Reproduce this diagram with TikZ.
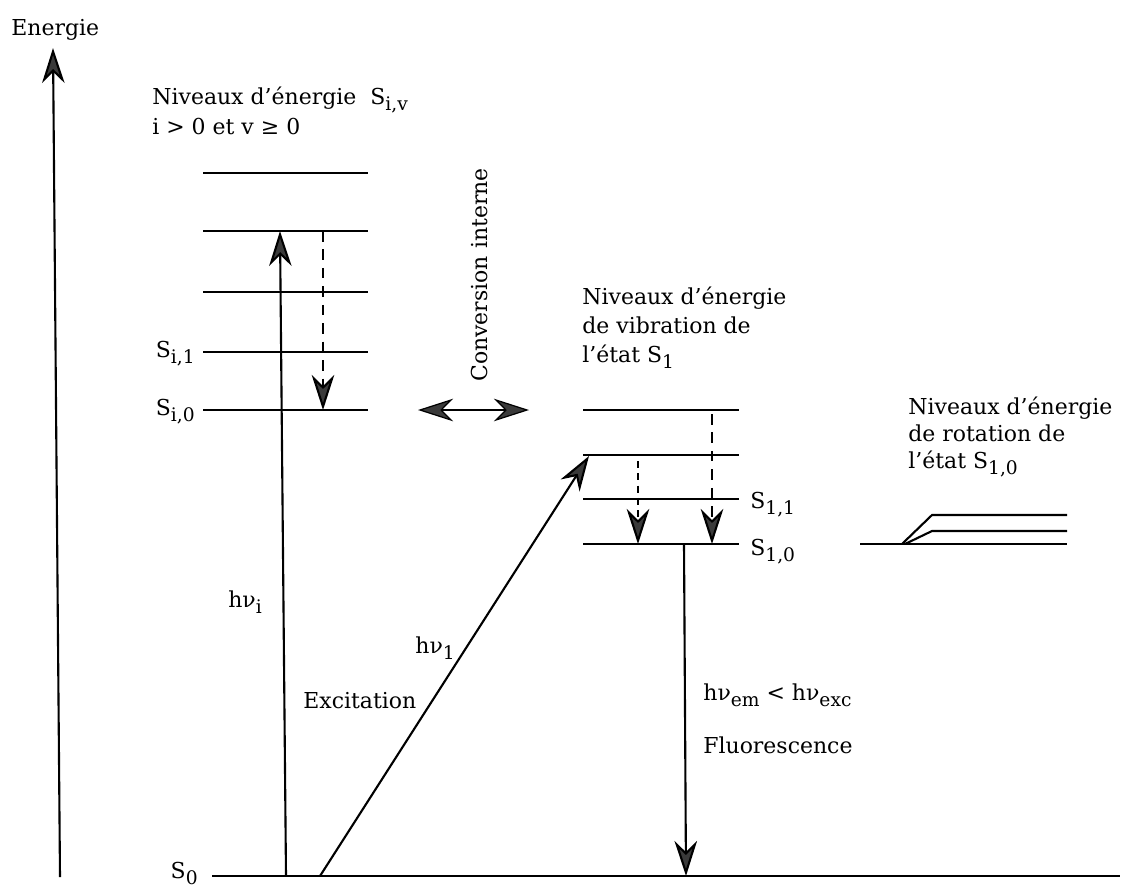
\documentclass[tikz,border=0pt]{standalone}
\usepackage{fontspec}
\setmainfont{DejaVu Serif}
\usetikzlibrary{arrows.meta}
\definecolor{tipgray}{HTML}{3A3A3A}
\newcommand\lo[1]{\raisebox{-0.55ex}{\scalebox{0.85}{#1}}}
\begin{document}
\begin{tikzpicture}[x=0.02cm,y=-0.02cm,
  lvl/.style={line width=1.2pt},
  lbl/.style={font=\fontsize{12.5}{15}\selectfont, inner sep=0pt},
  bigtip/.tip={Stealth[length=0.7cm,width=0.45cm,inset=0.22cm,fill=tipgray]},
  arr/.style={line width=1.2pt,-bigtip},
  darr/.style={line width=1.2pt,-bigtip,dash pattern=on 6pt off 4.5pt},
  sdarr/.style={line width=1.2pt,-bigtip,dash pattern=on 4pt off 3pt},
  biarr/.style={line width=0.7pt,bigtip-bigtip}]
\useasboundingbox (0,0) rectangle (1122,887);

% energy axis
\coordinate (Ebot) at (60,877);
\coordinate (Etop) at (53,48);
\draw[arr] (Ebot) -- (Etop);
\node[lbl,anchor=base west] (energie) at (11,35) {Energie};

% title S_i,v
\node[lbl,anchor=base west] (t1) at (152,104) {Niveaux d'énergie\ \ S\lo{i,v}};
\node[lbl,anchor=base west] (t2) at (152,134) {i > 0 et v ≥ 0};

% left levels
\foreach \n/\y in {a/173,b/231,c/292,d/352,e/410}{
  \coordinate (L\n l) at (203,\y);
  \coordinate (L\n r) at (368,\y);
  \draw[lvl] (L\n l) -- (L\n r);
}
\node[lbl,anchor=base east] (si1) at (195,357) {S\lo{i,1}};
\node[lbl,anchor=base east] (si0) at (195,415) {S\lo{i,0}};

% S0 ground level
\coordinate (S0l) at (212,876);
\coordinate (S0r) at (1120,876);
\draw[lvl] (S0l) -- (S0r);
\node[lbl,anchor=base east] (s0) at (198,878) {S\lo{0}};

% excitation hv_i
\coordinate (hiB) at (286,876);
\coordinate (hiT) at (280,231);
\draw[arr] (hiB) -- (hiT);
\node[lbl,anchor=base west] (hvi) at (228,607) {hν\lo{i}};

% internal dashed relaxation (left)
\coordinate (dlT) at (323,231);
\coordinate (dlB) at (323,410);
\draw[darr] (dlT) -- (dlB);

% conversion interne
\node[lbl,rotate=90,anchor=base west] (conv) at (487,382) {Conversion interne};
\coordinate (ciL) at (418,410);
\coordinate (ciR) at (529,410);
\draw[biarr] (ciL) -- (ciR);

% middle levels S1
\foreach \n/\y in {a/410,b/455,c/499,d/544}{
  \coordinate (M\n l) at (583,\y);
  \coordinate (M\n r) at (739,\y);
  \draw[lvl] (M\n l) -- (M\n r);
}
\node[lbl,anchor=base west] (m1) at (582,304) {Niveaux d'énergie};
\node[lbl,anchor=base west] (m2) at (582,333) {de vibration de};
\node[lbl,anchor=base west] (m3) at (582,362) {l'état S\lo{1}};
\node[lbl,anchor=base west] (s11) at (750,508) {S\lo{1,1}};
\node[lbl,anchor=base west] (s10) at (750,555) {S\lo{1,0}};

% excitation hv_1
\coordinate (h1B) at (320,876);
\coordinate (h1T) at (589,456);
\draw[arr] (h1B) -- (h1T);
\node[lbl,anchor=base west] (hv1) at (415,653) {hν\lo{1}};
\node[lbl,anchor=base west] (exc) at (303,708) {Excitation};

% dashed relaxations in S1
\coordinate (d1T) at (638,461);
\coordinate (d1B) at (638,544);
\draw[sdarr] (d1T) -- (d1B);
\coordinate (d2T) at (712,414);
\coordinate (d2B) at (712,544);
\draw[darr] (d2T) -- (d2B);

% fluorescence
\coordinate (fT) at (684,544);
\coordinate (fB) at (686,876);
\draw[arr] (fT) -- (fB);
\node[lbl,anchor=base west] (hvem) at (703,700) {hν\lo{em} < hν\lo{exc}};
\node[lbl,anchor=base west] (fluo) at (703,753) {Fluorescence};

% rotation levels
\coordinate (R0l) at (860,544);
\coordinate (R0r) at (1067,544);
\draw[lvl] (R0l) -- (R0r);
\coordinate (R1s) at (902,544);
\coordinate (R1k) at (932,515);
\coordinate (R1r) at (1067,515);
\draw[lvl] (R1s) -- (R1k) -- (R1r);
\coordinate (R2s) at (905,544);
\coordinate (R2k) at (932,531);
\coordinate (R2r) at (1067,531);
\draw[lvl] (R2s) -- (R2k) -- (R2r);
\node[lbl,anchor=base west] (r1) at (908,414) {Niveaux d'énergie};
\node[lbl,anchor=base west] (r2) at (908,441) {de rotation de};
\node[lbl,anchor=base west] (r3) at (908,468) {l'état S\lo{1,0}};
\end{tikzpicture}
\end{document}
